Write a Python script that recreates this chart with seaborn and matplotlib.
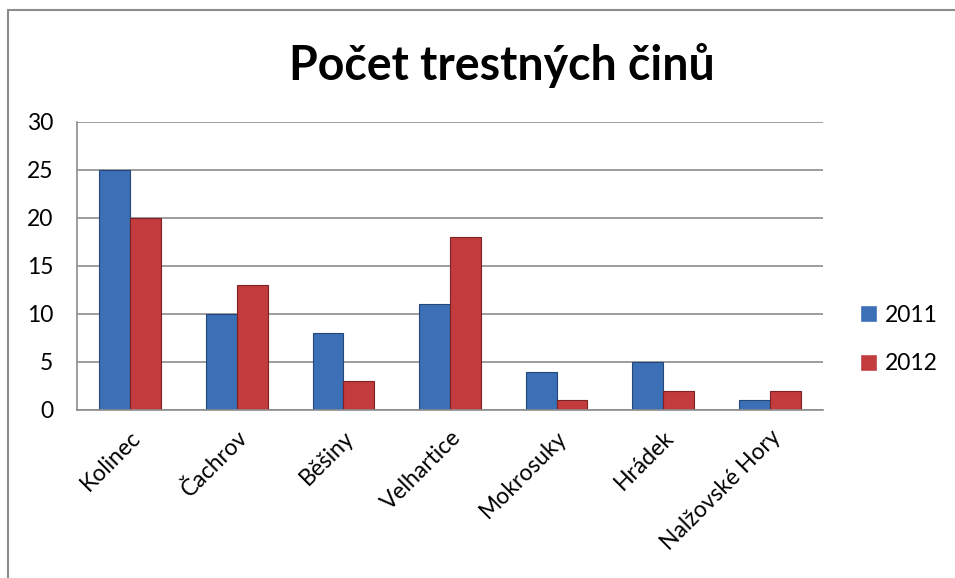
import pandas as pd
import matplotlib.pyplot as plt
import seaborn as sns
from matplotlib.lines import Line2D

obce = ["Kolinec", "Čachrov", "Běšiny", "Velhartice", "Mokrosuky", "Hrádek", "Nalžovské Hory"]
rok_2011 = [25, 10, 8, 11, 4, 5, 1]
rok_2012 = [20, 13, 3, 18, 1, 2, 2]
roky = ["2011", "2012"]

df = pd.DataFrame({
    "obec": obce * 2,
    "pocet": rok_2011 + rok_2012,
    "rok": [roky[0]] * len(obce) + [roky[1]] * len(obce),
})

sns.set_style("white")
plt.rcParams["font.family"] = ["Lato", "DejaVu Sans"]
plt.rcParams["text.color"] = "black"
plt.rcParams["xtick.color"] = "black"
plt.rcParams["ytick.color"] = "black"

fig = plt.figure(figsize=(9.55, 5.78), dpi=100)
ax = fig.add_axes([77 / 955, 1 - 410 / 578, (823 - 77) / 955, (410 - 122) / 578])

sns.barplot(data=df, x="obec", y="pocet", hue="rok", ax=ax, width=0.58,
            palette={"2011": "#3b6fb6", "2012": "#c23b3d"}, saturation=1)

edges = {"2011": "#24477a", "2012": "#7d2123"}
for cont, r in zip(ax.containers, roky):
    for bar in cont:
        bar.set_edgecolor(edges[r])
        bar.set_linewidth(0.8)

ax.set_ylim(0, 30)
ax.set_yticks(range(0, 31, 5))
ax.yaxis.grid(True, color="#8c8c8c", linewidth=1.2)
ax.set_axisbelow(True)
for s in ["top", "right"]:
    ax.spines[s].set_visible(False)
for s in ["left", "bottom"]:
    ax.spines[s].set_color("#8c8c8c")
    ax.spines[s].set_linewidth(1.2)
ax.set_xlabel("")
ax.set_ylabel("")
ax.tick_params(axis="y", labelsize=16.5, pad=17, length=0)
ax.tick_params(axis="x", labelsize=16.5, length=0, pad=12)
plt.setp(ax.get_xticklabels(), rotation=45, ha="right", rotation_mode="anchor")

leg = ax.legend(loc="center left", bbox_to_anchor=(1.022, 0.245), frameon=False,
                fontsize=16.5, handlelength=0.75, handleheight=0.75, labelspacing=1.2,
                handletextpad=0.35)

fig.suptitle("Počet trestných činů", fontsize=33.5, fontweight="bold", x=0.526, y=0.925)

# outer chart border (left and top only visible)
fig.add_artist(Line2D([8 / 955, 8 / 955], [0, 1 - 10 / 578], transform=fig.transFigure,
                      color="#8c8c8c", linewidth=1.5))
fig.add_artist(Line2D([8 / 955, 1], [1 - 10 / 578, 1 - 10 / 578], transform=fig.transFigure,
                      color="#8c8c8c", linewidth=1.5))

fig.savefig("out.png", dpi=100)
